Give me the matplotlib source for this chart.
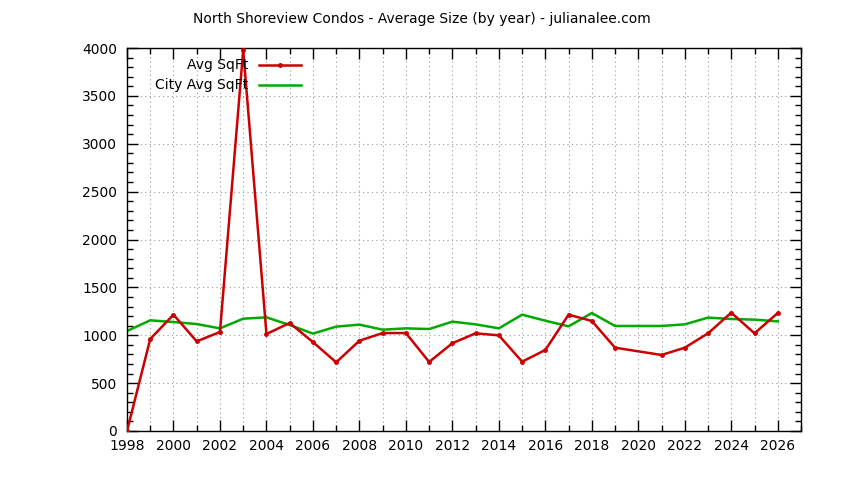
import matplotlib
matplotlib.use("Agg")
import matplotlib.pyplot as plt
from matplotlib.ticker import MultipleLocator

years = list(range(1998, 2027))
avg_sqft = [0, 961, 1215, 936, 1034, 3980, 1013, 1128, 929, 717, 943, 1023, 1023, 721,
            917, 1020, 999, 724, 846, 1215, 1149, 870, None, 794, 870, 1020, 1236, 1020, 1232]
city_avg = [1044, 1156, 1138, 1117, 1072, 1173, 1187, 1107, 1017, 1090, 1111, 1058, 1072, 1065,
            1142, 1114, 1072, 1215, 1152, 1093, 1232, 1097, 1097, 1097, 1114, 1184, 1170, 1163, 1145]

title = "North Shoreview Condos - Average Size (by year) - julianalee.com"
labels = ["Avg SqFt", "City Avg SqFt"]
red = "#cc0000"
green = "#00aa00"

plt.rcParams['font.family'] = ['DejaVu Sans']
fig = plt.figure(figsize=(8.44, 4.8), dpi=100)
ax = fig.add_axes([127/844, 1-431/480, 674/844, 383/480])

rx = [x for x, y in zip(years, avg_sqft) if y is not None]
ry = [y for y in avg_sqft if y is not None]
ax.plot(rx, ry, color=red, lw=1.8, marker='o', ms=2.5, zorder=3)
ax.plot(years, city_avg, color=green, lw=1.8, zorder=2)

ax.set_xlim(1998, 2027)
ax.set_ylim(0, 4000)
ax.xaxis.set_major_locator(MultipleLocator(2))
ax.xaxis.set_minor_locator(MultipleLocator(1))
ax.yaxis.set_major_locator(MultipleLocator(500))
ax.yaxis.set_minor_locator(MultipleLocator(100))
ax.tick_params(which='both', direction='in', top=True, right=True, labelsize=10, color='black')
ax.tick_params(which='major', length=8, width=1)
ax.tick_params(which='minor', length=4, width=1)
ax.tick_params(axis='x', pad=6)
ax.tick_params(axis='y', pad=7)
ax.grid(which='major', axis='y', linestyle=(0, (1, 3)), color='#999999', lw=0.8)
ax.grid(which='both', axis='x', linestyle=(0, (1, 3)), color='#999999', lw=0.8)
for s in ax.spines.values():
    s.set_linewidth(1)

# legend (gnuplot style: right-aligned text, sample on the right)
ty = [0.9556, 0.9034]
for lab, yy, col, mk in zip(labels, ty, [red, green], ['o', None]):
    ax.text(0.1795, yy, lab, transform=ax.transAxes, ha='right', va='center', fontsize=10)
    ax.plot([0.1958, 0.2582], [yy, yy], transform=ax.transAxes, color=col, lw=1.8, clip_on=False)
    if mk:
        ax.plot([0.227], [yy], transform=ax.transAxes, color=col, marker=mk, ms=2.5, clip_on=False)

fig.text(0.5, 1-19/480, title, ha='center', va='center', fontsize=10)
fig.savefig("out.png", dpi=100)
